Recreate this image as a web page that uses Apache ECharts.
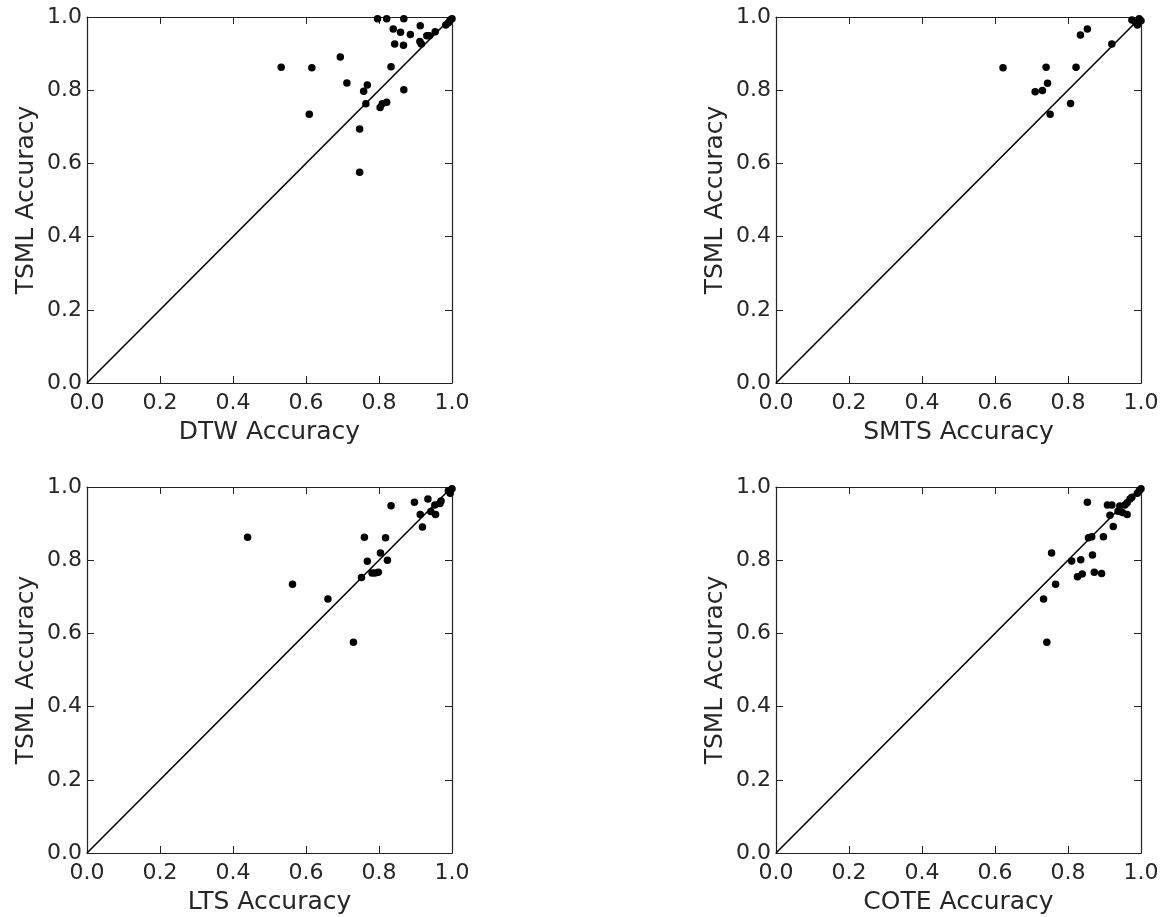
<!DOCTYPE html>
<html><head><meta charset="utf-8">
<script src="https://cdn.jsdelivr.net/npm/echarts@6/dist/echarts.min.js"></script>
<style>html,body{margin:0;padding:0;background:#fff}#c{width:1165px;height:917px}</style>
</head><body><div id="c"></div><script>
// ---- data ----
const xNames = ['DTW Accuracy', 'SMTS Accuracy', 'LTS Accuracy', 'COTE Accuracy'];
const yName = 'TSML Accuracy';
const tickValues = [0.0, 0.2, 0.4, 0.6, 0.8, 1.0];
const diagonal = [[0, 0], [1, 1]];

const dtwX = [0.796,0.821,0.868,0.839,0.859,0.886,0.913,0.931,0.938,0.954,0.912,0.916,0.843,0.867,0.983,0.990,0.995,1.000,0.694,0.532,0.616,0.833,0.712,0.768,0.758,0.868,0.764,0.821,0.809,0.803,0.609,0.747,0.747];
const dtwY = [0.995,0.995,0.995,0.967,0.958,0.952,0.976,0.949,0.949,0.960,0.933,0.926,0.926,0.923,0.978,0.984,0.992,0.995,0.891,0.863,0.861,0.864,0.820,0.814,0.797,0.801,0.763,0.767,0.763,0.753,0.734,0.694,0.576];

const smtsX = [0.622,0.740,0.822,0.744,0.710,0.730,0.807,0.751,0.834,0.853,0.920,0.975,0.985,0.990,0.995,1.000];
const smtsY = [0.861,0.863,0.863,0.819,0.796,0.799,0.764,0.734,0.951,0.967,0.926,0.992,0.985,0.978,0.995,0.990];

const ltsX = [0.440,0.563,0.660,0.730,0.752,0.760,0.768,0.781,0.789,0.798,0.804,0.818,0.823,0.833,0.897,0.934,0.913,0.919,0.942,0.955,0.953,0.967,0.970,0.995,0.990,1.000];
const ltsY = [0.863,0.734,0.694,0.576,0.753,0.863,0.797,0.765,0.765,0.767,0.820,0.861,0.800,0.949,0.958,0.967,0.925,0.891,0.933,0.925,0.951,0.955,0.962,0.983,0.990,0.995];

const coteX = [0.733,0.742,0.755,0.766,0.810,0.835,0.826,0.839,0.867,0.872,0.892,0.856,0.865,0.897,0.924,0.853,0.908,0.920,0.915,0.942,0.937,0.949,0.962,0.956,0.962,0.970,0.975,0.990,0.995,1.000];
const coteY = [0.694,0.576,0.820,0.734,0.798,0.801,0.755,0.762,0.814,0.767,0.764,0.861,0.864,0.864,0.892,0.958,0.951,0.951,0.923,0.948,0.934,0.930,0.925,0.951,0.957,0.967,0.972,0.983,0.990,0.995];

const panelX = [dtwX, smtsX, ltsX, coteX];
const panelY = [dtwY, smtsY, ltsY, coteY];

// ---- layout ----
const gridPos = [
  {left: 87, top: 17}, {left: 776, top: 17},
  {left: 87, top: 487}, {left: 776, top: 487}
];
const FONT = 'DejaVu Sans';
const TXT = '#262626';
const LINE = '#222';

const grids = [], xAxes = [], yAxes = [], series = [];
gridPos.forEach((g, i) => {
  grids.push({left: g.left, top: g.top, width: 365, height: 366, containLabel: false});
  const base = () => ({
    gridIndex: i, type: 'value', min: 0, max: 1, interval: 0.2,
    splitLine: {show: false},
    axisLine: {show: true, onZero: false, lineStyle: {color: LINE, width: 1.2}},
    axisTick: {show: true, inside: true, length: 7, lineStyle: {color: LINE, width: 1}},
  });
  xAxes.push(Object.assign(base(), {
    position: 'bottom',
    name: xNames[i], nameLocation: 'middle', nameGap: 37,
    nameTextStyle: {fontFamily: FONT, fontSize: 25, color: TXT},
    axisLabel: {show: true, margin: 9, fontFamily: FONT, fontSize: 22, color: TXT,
      formatter: v => v.toFixed(1)}
  }));
  xAxes.push(Object.assign(base(), {position: 'top', axisLabel: {show: false}}));
  yAxes.push(Object.assign(base(), {
    position: 'left',
    name: yName, nameLocation: 'middle', nameGap: 48,
    nameTextStyle: {fontFamily: FONT, fontSize: 25, color: TXT},
    axisLabel: {show: true, margin: 5, fontFamily: FONT, fontSize: 22, color: TXT,
      formatter: v => v.toFixed(1)}
  }));
  yAxes.push(Object.assign(base(), {position: 'right', axisLabel: {show: false}}));

  series.push({
    type: 'line', xAxisIndex: 2 * i, yAxisIndex: 2 * i,
    data: diagonal, showSymbol: false, symbol: 'none',
    lineStyle: {color: '#000', width: 1.6}, z: 2, silent: true, animation: false
  });
  series.push({
    type: 'scatter', xAxisIndex: 2 * i, yAxisIndex: 2 * i,
    data: panelX[i].map((x, k) => [x, panelY[i][k]]),
    symbol: 'circle', symbolSize: 7.5,
    itemStyle: {color: '#000', opacity: 1}, z: 3, animation: false
  });
});

const chart = echarts.init(document.getElementById('c'), null, {renderer: 'canvas'});
chart.setOption({
  backgroundColor: '#fff',
  animation: false,
  grid: grids, xAxis: xAxes, yAxis: yAxes, series: series
});
</script></body></html>
